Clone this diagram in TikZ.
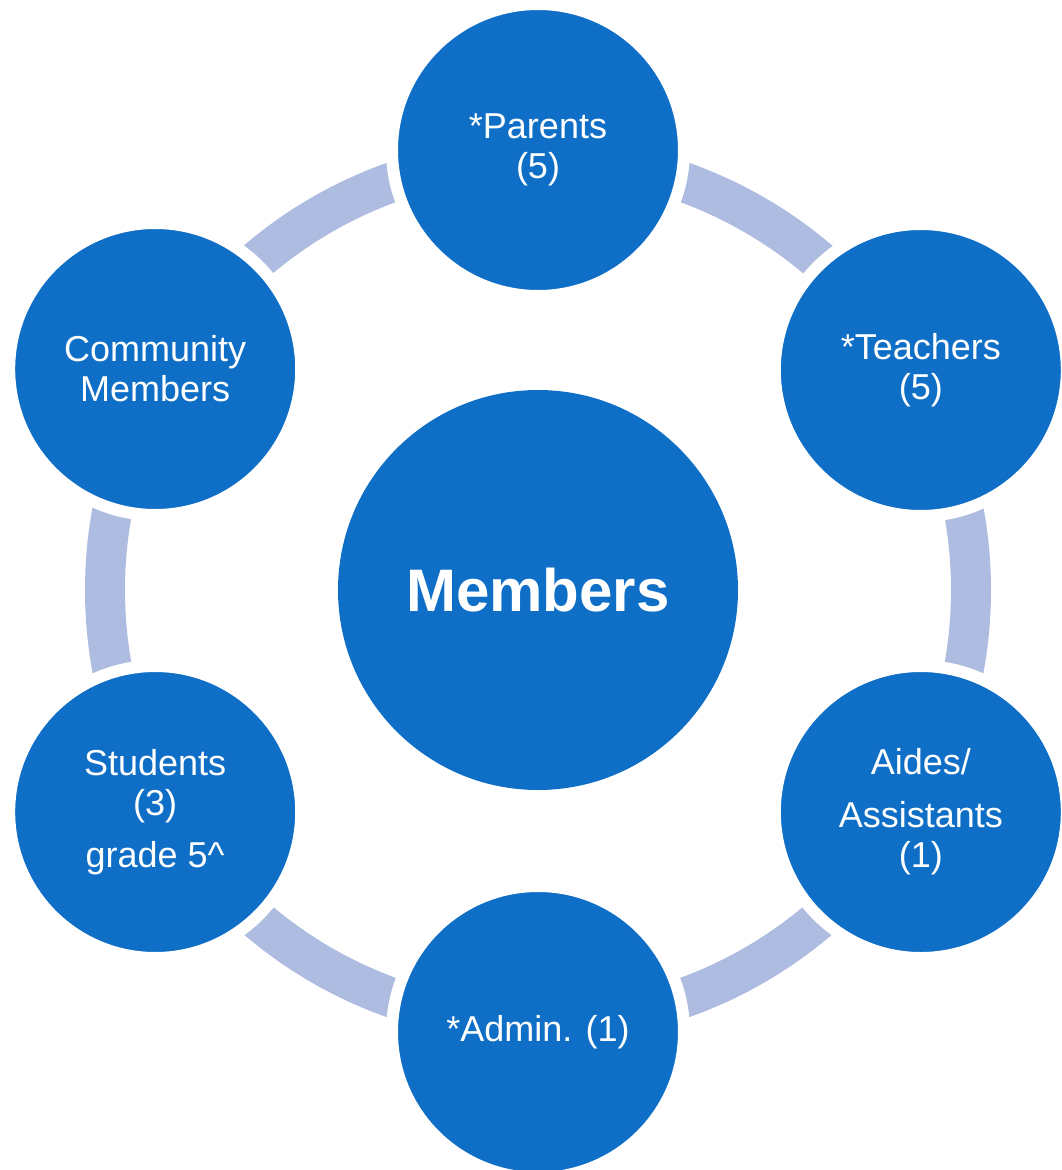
\documentclass[tikz,border=0pt]{standalone}
\usepackage{fontspec}
\setmainfont{Liberation Sans}
\definecolor{nodeblue}{HTML}{0F6FC6}
\definecolor{ringblue}{HTML}{ADBCE0}
\begin{document}
\begin{tikzpicture}[x=1pt,y=-1pt,
  member/.style={circle, fill=nodeblue, draw=white, line width=12pt,
    minimum size=292pt, inner sep=0pt, text=white, align=center,
    font=\fontsize{36}{40}\selectfont},
  hub/.style={circle, fill=nodeblue, minimum size=400pt, inner sep=0pt,
    text=white, font=\fontsize{60}{72}\selectfont\bfseries},
  ringband/.style={draw=ringblue, line width=40pt}]
\useasboundingbox (0,0) rectangle (1062,1170);
\clip (0,0) rectangle (1062,1170);
\node[hub] (hub) at (538,590) {Members};
\draw[ringband] (hub.center) circle[radius=433pt];
\node[member] (parents) at (538,150) {*Parents\\(5)};
\node[member] (teachers) at (920.8,370) {*Teachers\\(5)};
\node[member] (aides) at (920.8,812) {Aides/\\[13pt]Assistants\\(1)};
\node[member] (admin) at (538,1032) {*Admin. (1)};
\node[member] (students) at (155.2,812) {Students\\(3)\\[12pt]grade 5\textasciicircum};
\node[member] (community) at (155.2,369) {Community\\Members};
\end{tikzpicture}
\end{document}
